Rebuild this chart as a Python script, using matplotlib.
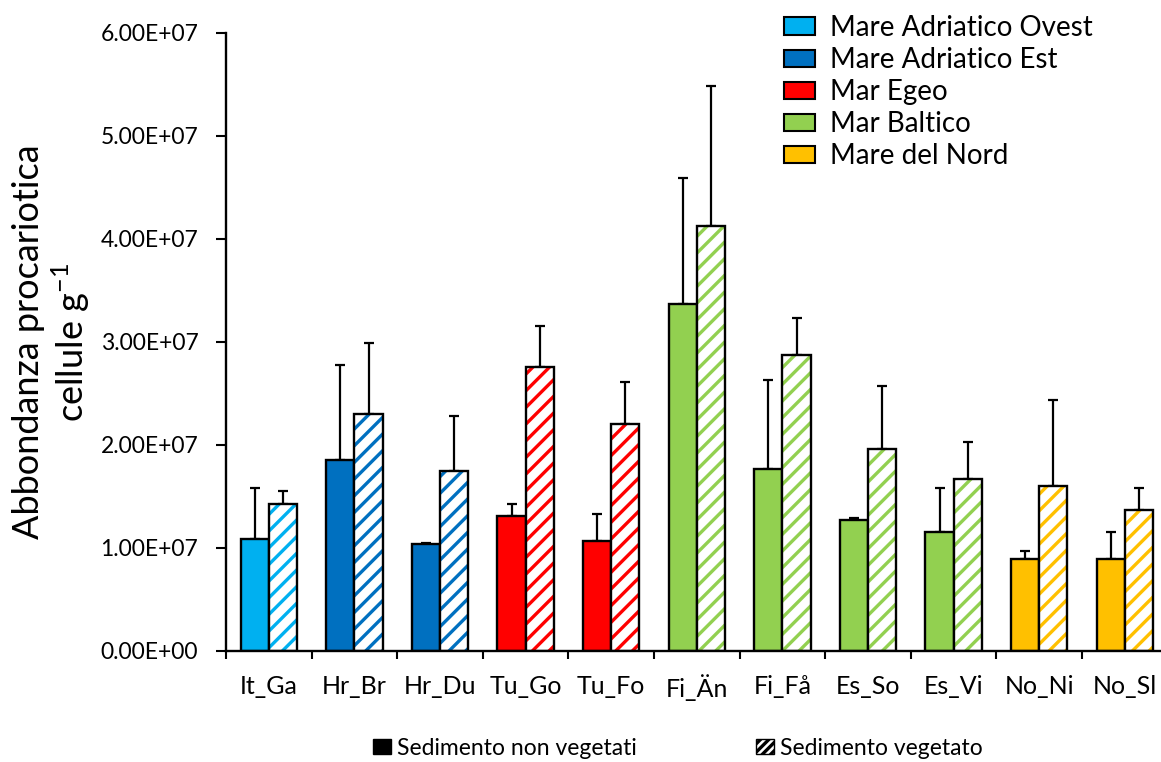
import matplotlib
matplotlib.use('Agg')
import matplotlib.pyplot as plt
from matplotlib.patches import Patch
from matplotlib.ticker import FuncFormatter

# sites, two treatments per site
sites = ['It_Ga', 'Hr_Br', 'Hr_Du', 'Tu_Go', 'Tu_Fo', 'Fi_Än', 'Fi_Få',
         'Es_So', 'Es_Vi', 'No_Ni', 'No_Sl']
non_veg = [1.09e7, 1.85e7, 1.04e7, 1.31e7, 1.07e7, 3.37e7, 1.77e7,
           1.27e7, 1.16e7, 0.89e7, 0.89e7]
non_veg_err = [0.49e7, 0.93e7, 0.01e7, 0.12e7, 0.26e7, 1.22e7, 0.86e7,
               0.02e7, 0.42e7, 0.08e7, 0.27e7]
veg = [1.43e7, 2.30e7, 1.75e7, 2.76e7, 2.20e7, 4.13e7, 2.87e7,
       1.96e7, 1.67e7, 1.60e7, 1.37e7]
veg_err = [0.12e7, 0.69e7, 0.53e7, 0.40e7, 0.41e7, 1.36e7, 0.36e7,
           0.61e7, 0.36e7, 0.84e7, 0.21e7]
site_region = ['Mare Adriatico Ovest', 'Mare Adriatico Est', 'Mare Adriatico Est',
               'Mar Egeo', 'Mar Egeo', 'Mar Baltico', 'Mar Baltico',
               'Mar Baltico', 'Mar Baltico', 'Mare del Nord', 'Mare del Nord']
regions = ['Mare Adriatico Ovest', 'Mare Adriatico Est', 'Mar Egeo',
           'Mar Baltico', 'Mare del Nord']
region_colors = {'Mare Adriatico Ovest': '#00B0F0',
                 'Mare Adriatico Est': '#0070C0',
                 'Mar Egeo': '#FF0000',
                 'Mar Baltico': '#92D050',
                 'Mare del Nord': '#FFC000'}


def main():
    plt.rcParams['font.family'] = ['Lato', 'DejaVu Sans']
    plt.rcParams['hatch.linewidth'] = 2.4

    fig = plt.figure(figsize=(11.61, 7.62), dpi=100)
    ax = fig.add_axes([0.1947, 0.1457, 0.811, 0.811])

    w = 0.33
    centers = [i + 0.5 for i in range(len(sites))]
    colors = [region_colors[r] for r in site_region]
    xs_solid = [c - w / 2 for c in centers]
    xs_hatch = [c + w / 2 for c in centers]

    ax.bar(xs_solid, non_veg, width=w, color=colors, edgecolor='black',
           linewidth=1.7, zorder=2)
    ax.errorbar(xs_solid, non_veg, yerr=[[0] * len(non_veg), non_veg_err],
                fmt='none', ecolor='black', elinewidth=1.6, capsize=3.5,
                capthick=1.6, zorder=1)

    # hatch in the region colour, outline in black
    ax.bar(xs_hatch, veg, width=w, color='white', edgecolor=colors,
           hatch='//', linewidth=0, zorder=2)
    ax.bar(xs_hatch, veg, width=w, fill=False, edgecolor='black',
           linewidth=1.7, zorder=3)
    ax.errorbar(xs_hatch, veg, yerr=[[0] * len(veg), veg_err],
                fmt='none', ecolor='black', elinewidth=1.6, capsize=3.5,
                capthick=1.6, zorder=1)

    ax.set_xlim(0, len(sites))
    ax.set_ylim(0, 6e7)
    ax.set_yticks([i * 1e7 for i in range(7)])
    ax.yaxis.set_major_formatter(FuncFormatter(lambda v, p: '%.2E' % v))
    ax.set_xticks(range(len(sites) + 1))
    ax.set_xticklabels([])
    ax.set_xticks(centers, minor=True)
    ax.set_xticklabels(sites, minor=True)
    ax.tick_params(axis='x', which='minor', length=0, pad=17, labelsize=18)
    ax.tick_params(axis='x', which='major', length=6, width=1.5, direction='out')
    ax.tick_params(axis='y', length=7, width=1.5, labelsize=16.5, pad=13)
    for s in ['top', 'right']:
        ax.spines[s].set_visible(False)
    for s in ['left', 'bottom']:
        ax.spines[s].set_linewidth(1.7)

    ax.set_ylabel('Abbondanza procariotica\ncellule g$^{\\mathregular{-1}}$',
                  fontsize=26, labelpad=6, linespacing=1.15)

    handles = [Patch(facecolor=region_colors[r], edgecolor='black', linewidth=1.5)
               for r in regions]
    fig.legend(handles, regions, loc='upper left',
               bbox_to_anchor=(0.666, 0.995), frameon=False, fontsize=20,
               handlelength=1.1, handleheight=0.58, labelspacing=0.22,
               handletextpad=0.55, borderaxespad=0)

    h2 = [Patch(facecolor='black', edgecolor='black'),
          Patch(facecolor='white', edgecolor='black', hatch='////')]
    fig.legend(h2, ['Sedimento non vegetati', 'Sedimento vegetato'],
               loc='center', bbox_to_anchor=(0.584, 0.018), ncol=2,
               frameon=False, fontsize=16.5, handlelength=0.8,
               handleheight=0.65, handletextpad=0.25, columnspacing=5.2)

    fig.savefig('out.png', dpi=100)


if __name__ == '__main__':
    main()
